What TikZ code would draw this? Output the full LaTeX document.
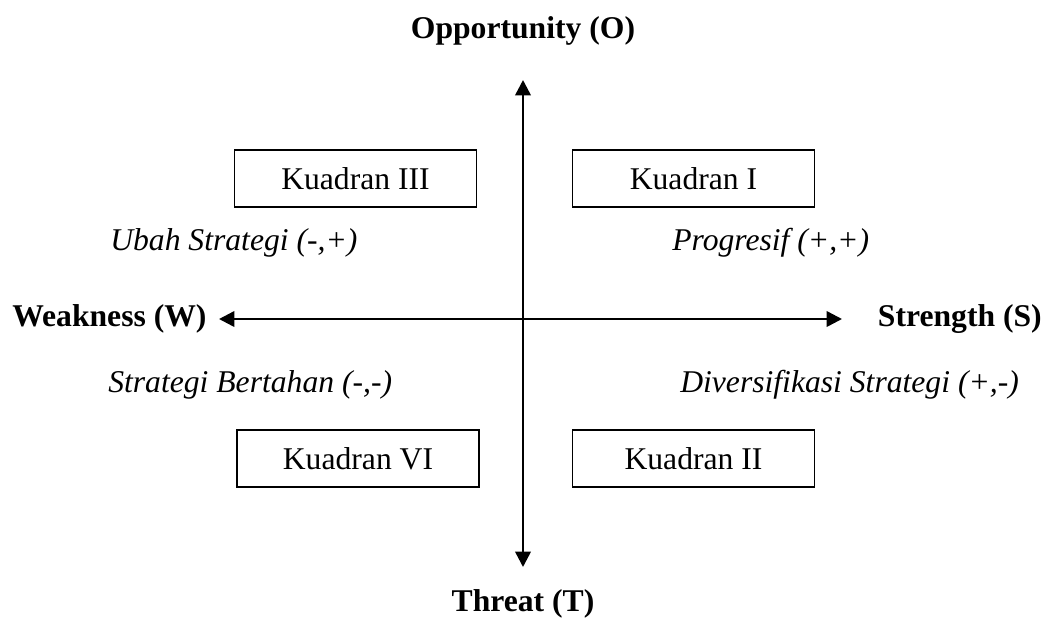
\documentclass[tikz,border=0pt]{standalone}
\usepackage{fontspec}
\setmainfont{Liberation Serif}
\usetikzlibrary{arrows.meta}

\begin{document}
\begin{tikzpicture}[
  x=0.025cm, y=-0.025cm,
  font=\fontsize{22.5}{27}\selectfont,
  axis/.style={line width=1.8pt, {Triangle[length=11pt, width=11pt]}-{Triangle[length=11pt, width=11pt]}},
  quad/.style={draw, line width=1.1pt, minimum width=6.05cm, minimum height=1.42cm, inner sep=0pt},
  strat/.style={font=\fontsize{22.5}{27}\selectfont\itshape, inner sep=0pt, anchor=west},
  pole/.style={font=\fontsize{22.5}{27}\selectfont\bfseries, inner sep=0pt},
]
  \useasboundingbox (0,0) rectangle (1044,627);

  % axis ends
  \coordinate (top) at (523,80);
  \coordinate (bot) at (523,567);
  \coordinate (lft) at (219,319);
  \coordinate (rgt) at (842,319);

  \draw[axis] (bot) -- (top);
  \draw[axis] (lft) -- (rgt);

  % pole labels
  \node[pole] (opp) at (523,31) {Opportunity (O)};
  \node[pole] (thr) at (523,604) {Threat (T)};
  \node[pole, anchor=west] (weak) at (12,319) {Weakness (W)};
  \node[pole, anchor=east] (str) at (1042,319) {Strength (S)};

  % quadrant boxes
  \node[quad] (q3) at (355.5,178.5) {Kuadran III};
  \node[quad] (q1) at (693.5,178.5) {Kuadran I};
  \node[quad] (q6) at (358,458.5) {Kuadran VI};
  \node[quad] (q2) at (693.5,458.5) {Kuadran II};

  % strategies
  \node[strat] (s3) at (110,243) {Ubah Strategi (-,+)};
  \node[strat] (s1) at (672,243) {Progresif (+,+)};
  \node[strat] (s6) at (108,385) {Strategi Bertahan (-,-)};
  \node[strat] (s2) at (680,385) {Diversifikasi Strategi (+,-)};
\end{tikzpicture}
\end{document}
